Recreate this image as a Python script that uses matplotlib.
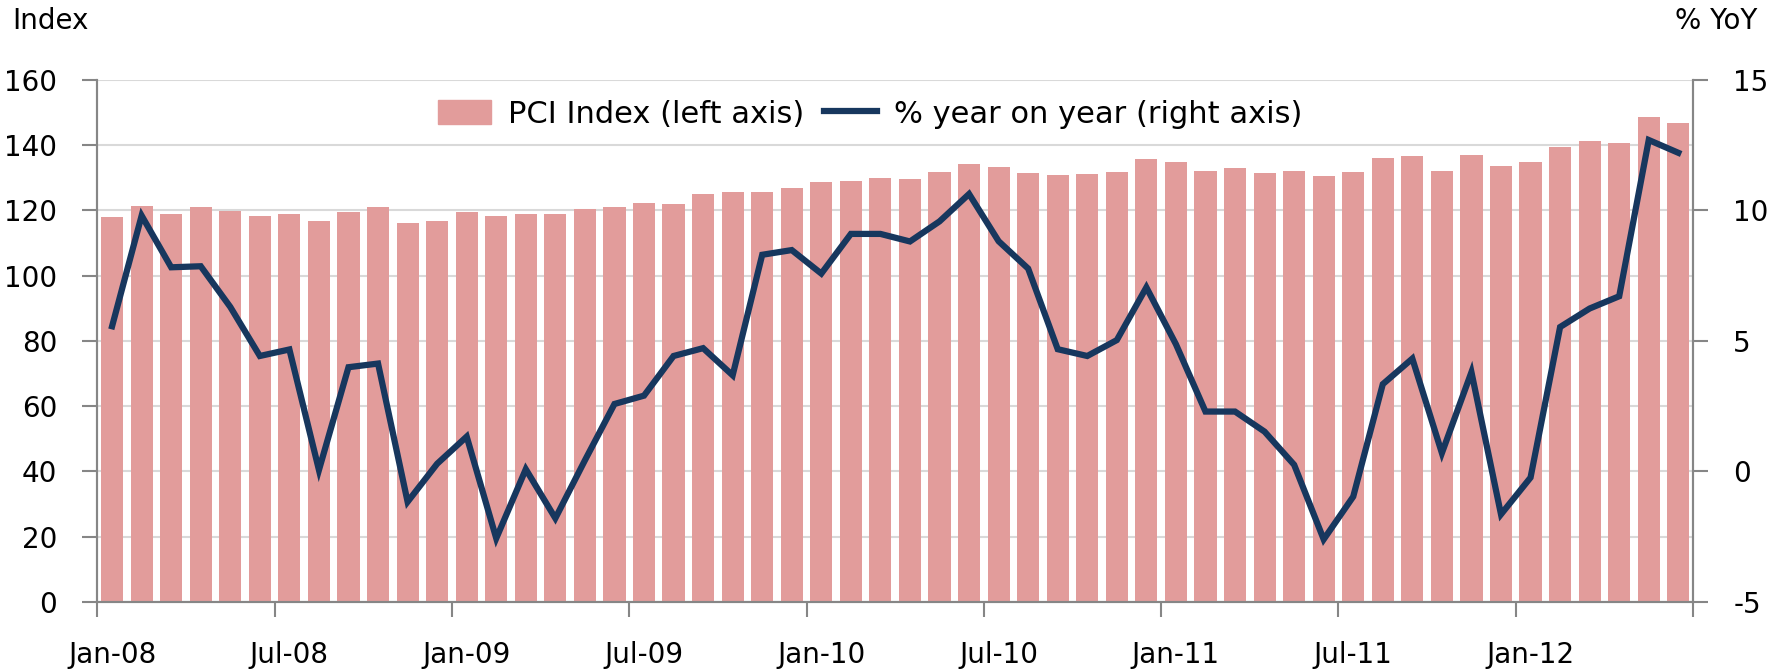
import numpy as np
import matplotlib
matplotlib.use("Agg")
import matplotlib.pyplot as plt
from matplotlib.patches import Patch
from matplotlib.lines import Line2D

plt.rcParams['font.family'] = ['DejaVu Sans']
plt.rcParams['axes.unicode_minus'] = False

# monthly data, Jan-08 .. Jun-12
months = ['Jan', 'Feb', 'Mar', 'Apr', 'May', 'Jun',
          'Jul', 'Aug', 'Sep', 'Oct', 'Nov', 'Dec']
years = ['08', '09', '10', '11', '12']
labels = [m + '-' + y for y in years for m in months][:54]

pci_index = [118.1, 121.4, 119.0, 121.2, 119.9, 118.2, 119.0, 116.8, 119.4, 121.1, 116.0, 116.8,
             119.5, 118.4, 119.0, 119.0, 120.4, 121.2, 122.3, 122.1, 125.1, 125.6, 125.5, 126.9,
             128.7, 129.1, 130.0, 129.6, 131.7, 134.2, 133.3, 131.5, 130.9, 131.3, 131.8, 135.8,
             134.9, 132.1, 133.1, 131.5, 132.0, 130.7, 131.9, 136.0, 136.6, 132.1, 137.0, 133.5,
             134.7, 139.5, 141.3, 140.6, 148.8, 146.8]

yoy = [5.56, 9.80, 7.82, 7.86, 6.30, 4.42, 4.67, 0.05, 3.99, 4.13, -1.17, 0.29,
       1.33, -2.57, 0.08, -1.80, 0.42, 2.58, 2.90, 4.42, 4.72, 3.68, 8.30, 8.48,
       7.58, 9.10, 9.10, 8.81, 9.58, 10.63, 8.82, 7.77, 4.68, 4.42, 5.03, 7.05,
       4.87, 2.29, 2.29, 1.52, 0.25, -2.61, -0.97, 3.34, 4.32, 0.70, 3.80, -1.65,
       -0.24, 5.53, 6.24, 6.71, 12.70, 12.21]

bar_color = '#e29c9b'
line_color = '#17375e'
axis_gray = '#868686'
fs = 20

x = np.arange(len(labels))

fig = plt.figure(figsize=(17.79, 6.70), dpi=100)
ax = fig.add_axes([0.0547, 0.1019, 0.8970, 0.7787])
ax2 = ax.twinx()

ax.bar(x, pci_index, width=0.75, color=bar_color, zorder=2)
ax2.plot(x, yoy, color=line_color, lw=4.5, solid_joinstyle='miter', zorder=3)

ax.set_xlim(-0.5, len(labels) - 0.5)
ax.set_ylim(0, 160)
ax.set_yticks(np.arange(0, 161, 20))
ax2.set_ylim(-5, 15)
ax2.set_yticks([-5, 0, 5, 10, 15])

ax.set_axisbelow(True)
ax.grid(axis='y', color='#d9d9d9', lw=1.5)

# tick marks between categories, labels centred on categories
ax.set_xticks(np.arange(-0.5, len(labels), 6))
ax.set_xticklabels([])
ax.set_xticks(x[::6], minor=True)
ax.set_xticklabels(labels[::6], minor=True)
ax.tick_params(axis='x', which='major', length=11, width=1.5, color=axis_gray)
ax.tick_params(axis='x', which='minor', length=0, pad=28, labelsize=fs)
ax.tick_params(axis='y', length=11, width=1.5, color=axis_gray, pad=18, labelsize=fs)
ax2.tick_params(axis='y', length=11, width=1.5, color=axis_gray, pad=18, labelsize=fs)

for a in (ax, ax2):
    a.spines['top'].set_visible(False)
    for s in ('left', 'right', 'bottom'):
        a.spines[s].set_color(axis_gray)
        a.spines[s].set_linewidth(1.5)

fig.text(12 / 1779, 1 - 21 / 670, 'Index', fontsize=fs, va='center', ha='left')
fig.text(1757 / 1779, 1 - 21 / 670, '% YoY', fontsize=fs, va='center', ha='right')

handles = [Patch(color=bar_color), Line2D([0], [0], color=line_color, lw=4.5)]
ax2.legend(handles, ['PCI Index (left axis)', '% year on year (right axis)'],
           loc='center left', bbox_to_anchor=(0.204, 0.9345), ncol=2, frameon=False,
           fontsize=22, borderpad=0, handlelength=1.73, handleheight=0.82,
           handletextpad=0.56, columnspacing=0.65)

fig.savefig('out.png', dpi=100)
